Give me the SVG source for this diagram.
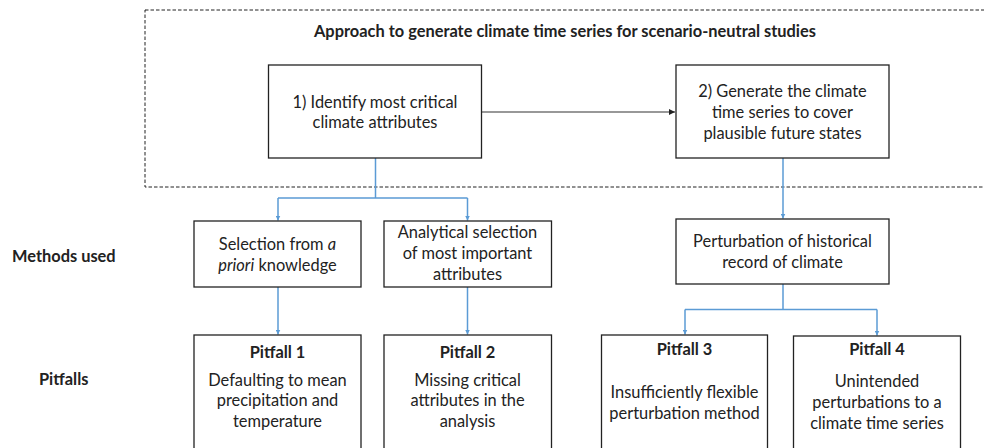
<svg xmlns="http://www.w3.org/2000/svg" width="984" height="448" viewBox="0 0 984 448">
  <style>
    text { font-family: Lato, "Open Sans", "Liberation Sans", sans-serif; fill: #222; }
    .t { font-size: 16.4px; text-anchor: middle; }
    .b { font-size: 16.4px; font-weight: bold; }
    .bc { font-size: 16.4px; font-weight: bold; text-anchor: middle; }
    .box { fill: #fff; stroke: #222; stroke-width: 1.3; }
    .blue { fill: none; stroke: #5b9bd5; stroke-width: 1.5; }
    .dark { fill: none; stroke: #333; stroke-width: 1.2; }
  </style>
  <defs>
    <marker id="ab" viewBox="0 0 10 10" refX="10" refY="5" markerWidth="5" markerHeight="5" orient="auto" markerUnits="userSpaceOnUse">
      <path d="M0,0 L10,5 L0,10 z" fill="#5b9bd5"/>
    </marker>
    <marker id="ak" viewBox="0 0 10 10" refX="10" refY="5" markerWidth="6" markerHeight="6" orient="auto" markerUnits="userSpaceOnUse">
      <path d="M0,0 L10,5 L0,10 z" fill="#222"/>
    </marker>
  </defs>

  <rect width="984" height="448" fill="#fff"/>

  <!-- dashed frame around the approach -->
  <g id="frame">
    <rect x="145" y="10" width="850" height="177" fill="none" stroke="#222" stroke-width="1" stroke-dasharray="3.5,2"/>
    <text class="bc" x="565" y="37">Approach to generate climate time series for scenario-neutral studies</text>
  </g>

  <!-- row labels -->
  <g id="label-methods"><text class="b" x="12" y="262">Methods used</text></g>
  <g id="label-pitfalls"><text class="b" x="39" y="385">Pitfalls</text></g>

  <g id="connectors">
    <path class="dark" d="M482,112 H675" marker-end="url(#ak)"/>
    <path class="blue" d="M375.5,158 V198 M278,198 H467.5"/>
    <path class="blue" d="M278,198 V220.5" marker-end="url(#ab)"/>
    <path class="blue" d="M467.5,198 V220.5" marker-end="url(#ab)"/>
    <path class="blue" d="M278,287 V334.5" marker-end="url(#ab)"/>
    <path class="blue" d="M467.5,287 V334.5" marker-end="url(#ab)"/>
    <path class="blue" d="M783,158 V218.5" marker-end="url(#ab)"/>
    <path class="blue" d="M783,284 V309.5 M685,309.5 H877"/>
    <path class="blue" d="M685,309.5 V334.5" marker-end="url(#ab)"/>
    <path class="blue" d="M877,309.5 V335.5" marker-end="url(#ab)"/>
  </g>

  <g id="step1">
    <rect class="box" x="268.5" y="65" width="213" height="93"/>
    <text class="t" x="375" y="108">1) Identify most critical</text>
    <text class="t" x="375" y="128">climate attributes</text>
  </g>

  <g id="step2">
    <rect class="box" x="676" y="65" width="213" height="93"/>
    <text class="t" x="782.5" y="97">2) Generate the climate</text>
    <text class="t" x="782.5" y="118">time series to cover</text>
    <text class="t" x="782.5" y="139">plausible future states</text>
  </g>

  <g id="method-apriori">
    <rect class="box" x="194" y="221" width="167" height="66"/>
    <text class="t" x="277.5" y="249.5">Selection from <tspan font-style="italic">a</tspan></text>
    <text class="t" x="277.5" y="270.5"><tspan font-style="italic">priori</tspan> knowledge</text>
  </g>

  <g id="method-analytical">
    <rect class="box" x="384" y="221" width="167.5" height="66"/>
    <text class="t" x="467.5" y="238">Analytical selection</text>
    <text class="t" x="467.5" y="259">of most important</text>
    <text class="t" x="467.5" y="280">attributes</text>
  </g>

  <g id="method-perturbation">
    <rect class="box" x="676" y="219" width="213" height="65"/>
    <text class="t" x="782.5" y="247">Perturbation of historical</text>
    <text class="t" x="782.5" y="267.5">record of climate</text>
  </g>

  <g id="pitfall1">
    <rect class="box" x="194" y="335" width="167" height="130"/>
    <text class="bc" x="277.5" y="357.5">Pitfall 1</text>
    <text class="t" x="277.5" y="385.5">Defaulting to mean</text>
    <text class="t" x="277.5" y="406">precipitation and</text>
    <text class="t" x="277.5" y="427">temperature</text>
  </g>

  <g id="pitfall2">
    <rect class="box" x="384" y="335" width="167.5" height="130"/>
    <text class="bc" x="467.5" y="357.5">Pitfall 2</text>
    <text class="t" x="467.5" y="385.5">Missing critical</text>
    <text class="t" x="467.5" y="406">attributes in the</text>
    <text class="t" x="467.5" y="427">analysis</text>
  </g>

  <g id="pitfall3">
    <rect class="box" x="601.5" y="335" width="166" height="130"/>
    <text class="bc" x="684.5" y="355">Pitfall 3</text>
    <text class="t" x="684.5" y="397.5">Insufficiently flexible</text>
    <text class="t" x="684.5" y="418.5">perturbation method</text>
  </g>

  <g id="pitfall4">
    <rect class="box" x="793.5" y="336" width="167" height="130"/>
    <text class="bc" x="877" y="355">Pitfall 4</text>
    <text class="t" x="877" y="387">Unintended</text>
    <text class="t" x="877" y="407.5">perturbations to a</text>
    <text class="t" x="877" y="428.5">climate time series</text>
  </g>
</svg>
